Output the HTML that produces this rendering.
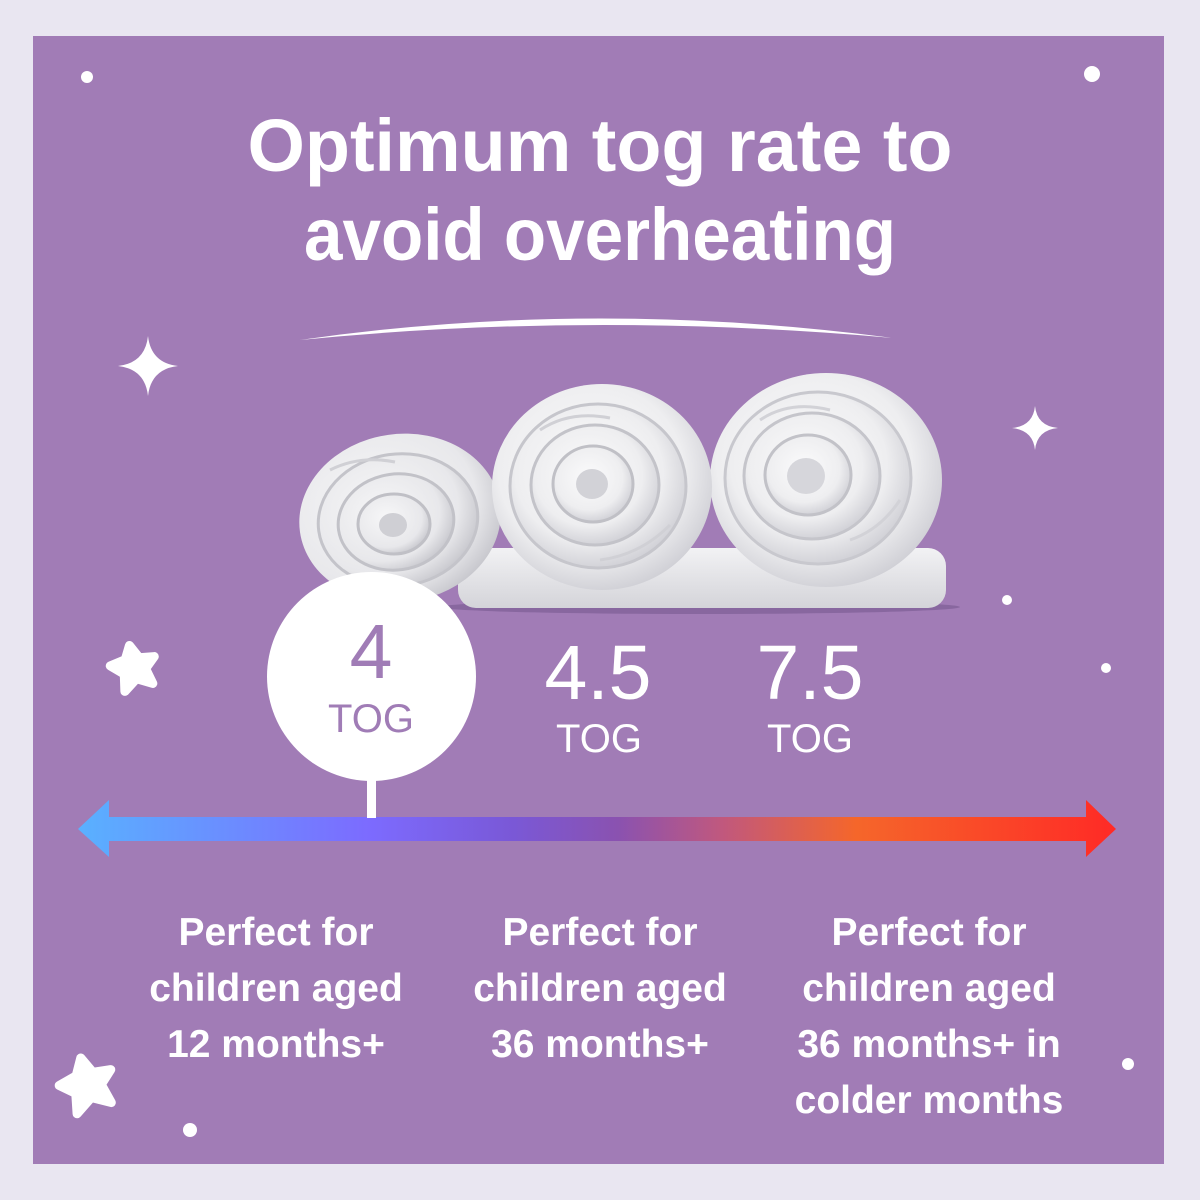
<!DOCTYPE html>
<html><head><meta charset="utf-8"><style>
html,body{margin:0;padding:0;background:#e9e6f1;}
svg{display:block;}
</style></head><body>
<svg width="1200" height="1200" viewBox="0 0 1200 1200" xmlns="http://www.w3.org/2000/svg">
<defs>
<linearGradient id="arr" gradientUnits="userSpaceOnUse" x1="78" y1="0" x2="1116" y2="0">
<stop offset="0" stop-color="#59b1ff"/>
<stop offset="0.28" stop-color="#7c6bff"/>
<stop offset="0.42" stop-color="#7a58d6"/>
<stop offset="0.52" stop-color="#8a52b0"/>
<stop offset="0.62" stop-color="#c0587e"/>
<stop offset="0.75" stop-color="#f5662a"/>
<stop offset="1" stop-color="#ff2a26"/>
</linearGradient>
<radialGradient id="rg" cx="0.45" cy="0.42" r="0.6">
<stop offset="0" stop-color="#fbfbfc"/>
<stop offset="0.7" stop-color="#eeeef0"/>
<stop offset="1" stop-color="#cfcfd5"/>
</radialGradient>
<radialGradient id="rg2" cx="0.4" cy="0.4" r="0.65">
<stop offset="0" stop-color="#f7f7f8"/>
<stop offset="0.75" stop-color="#e8e8eb"/>
<stop offset="1" stop-color="#c6c6cc"/>
</radialGradient>
<linearGradient id="base" x1="0" y1="0" x2="0" y2="1">
<stop offset="0" stop-color="#f2f2f4"/>
<stop offset="1" stop-color="#d4d4d9"/>
</linearGradient>
</defs>
<rect x="0" y="0" width="1200" height="1200" fill="#e9e6f1"/>
<rect x="33" y="36" width="1131" height="1128" fill="#a17cb6"/>

<!-- title -->
<g font-family="Liberation Sans, sans-serif" font-weight="700" fill="#ffffff" text-anchor="middle">
<text x="600" y="171" font-size="74" textLength="705" lengthAdjust="spacingAndGlyphs">Optimum tog rate to</text>
<text x="600" y="260" font-size="74" textLength="592" lengthAdjust="spacingAndGlyphs">avoid overheating</text>
</g>
<path d="M300,340 Q590,298 893,338 Q590,311 300,340 Z" fill="#ffffff"/>

<!-- dots -->
<g fill="#ffffff">
<circle cx="87" cy="77" r="6"/>
<circle cx="1092" cy="74" r="8"/>
<circle cx="1007" cy="600" r="5"/>
<circle cx="1106" cy="668" r="5"/>
<circle cx="1128" cy="1064" r="6"/>
<circle cx="190" cy="1130" r="7"/>
</g>
<!-- sparkles -->
<path d="M148,336 Q151,363 178,366 Q151,369 148,396 Q145,369 118,366 Q145,363 148,336 Z" fill="#ffffff"/>
<path d="M1035,406 Q1037,426 1058,428 Q1037,430 1035,450 Q1033,430 1012,428 Q1033,426 1035,406 Z" fill="#ffffff"/>
<!-- rounded stars -->
<g fill="#ffffff" stroke="#ffffff" stroke-linejoin="round">
<polygon stroke-width="9" points="134,645 141,659 156,661 145,671 149,687 134,679 120,689 123,672 111,661 127,658" transform="rotate(-12 134 667)"/>
<polygon stroke-width="9" points="88,1057 96,1074 114,1076 101,1088 106,1108 88,1098 70,1110 74,1090 60,1078 79,1073" transform="rotate(-15 88 1085)"/>
</g>

<!-- duvets -->
<ellipse cx="700" cy="607" rx="260" ry="7" fill="#7d5e96" opacity="0.7"/>
<rect x="458" y="548" width="488" height="60" rx="18" fill="url(#base)"/>
<!-- roll 1 -->
<g>
<ellipse cx="400" cy="518" rx="101" ry="84" fill="url(#rg2)" transform="rotate(-8 400 518)"/>
<ellipse cx="398" cy="520" rx="80" ry="66" fill="url(#rg2)" stroke="#c4c4ca" stroke-width="3" transform="rotate(-8 398 520)"/>
<ellipse cx="396" cy="522" rx="58" ry="48" fill="url(#rg2)" stroke="#c2c2c8" stroke-width="3" transform="rotate(-8 396 522)"/>
<ellipse cx="394" cy="524" rx="36" ry="30" fill="url(#rg2)" stroke="#c0c0c6" stroke-width="3"/>
<ellipse cx="393" cy="525" rx="14" ry="12" fill="#cfcfd4"/>
<path d="M330,470 Q360,455 395,462 M350,575 Q380,590 420,585" stroke="#d0d0d5" stroke-width="3" fill="none"/>
</g>
<!-- roll 3 -->
<g>
<ellipse cx="826" cy="480" rx="116" ry="107" fill="url(#rg)"/>
<ellipse cx="818" cy="478" rx="93" ry="86" fill="url(#rg)" stroke="#c8c8ce" stroke-width="3"/>
<ellipse cx="812" cy="476" rx="68" ry="63" fill="url(#rg)" stroke="#c5c5cb" stroke-width="3"/>
<ellipse cx="808" cy="475" rx="43" ry="40" fill="url(#rg)" stroke="#c2c2c8" stroke-width="3"/>
<ellipse cx="806" cy="476" rx="19" ry="18" fill="#d6d6db"/>
<path d="M760,420 Q790,400 830,410 M850,540 Q880,530 900,500" stroke="#d2d2d7" stroke-width="3" fill="none"/>
</g>
<!-- roll 2 -->
<g>
<ellipse cx="602" cy="487" rx="110" ry="103" fill="url(#rg)"/>
<ellipse cx="598" cy="486" rx="88" ry="82" fill="url(#rg)" stroke="#c6c6cc" stroke-width="3"/>
<ellipse cx="595" cy="485" rx="64" ry="60" fill="url(#rg)" stroke="#c3c3c9" stroke-width="3"/>
<ellipse cx="593" cy="484" rx="40" ry="38" fill="url(#rg)" stroke="#c0c0c6" stroke-width="3"/>
<ellipse cx="592" cy="484" rx="16" ry="15" fill="#d2d2d7"/>
<path d="M540,430 Q570,410 610,418 M600,560 Q640,555 670,525" stroke="#d0d0d5" stroke-width="3" fill="none"/>
</g>

<!-- arrow -->
<path d="M78,829 L109,800 L109,817 L1086,817 L1086,800 L1116,829 L1086,857 L1086,841 L109,841 L109,857 Z" fill="url(#arr)"/>

<!-- circle marker -->
<rect x="367" y="770" width="9" height="48" fill="#ffffff"/>
<circle cx="371.5" cy="676.5" r="104.5" fill="#ffffff"/>
<g font-family="Liberation Sans, sans-serif" text-anchor="middle">
<text x="371" y="678" font-size="77" fill="#a07cb6">4</text>
<text x="371" y="732" font-size="40" fill="#a07cb6">TOG</text>
<text x="598" y="699" font-size="77" fill="#ffffff">4.5</text>
<text x="599" y="752" font-size="40" fill="#ffffff">TOG</text>
<text x="810" y="699" font-size="77" fill="#ffffff">7.5</text>
<text x="810" y="752" font-size="40" fill="#ffffff">TOG</text>
</g>

<!-- bottom text -->
<g font-family="Liberation Sans, sans-serif" font-weight="700" font-size="39" fill="#ffffff" text-anchor="middle">
<text x="276" y="945">Perfect for</text>
<text x="276" y="1001">children aged</text>
<text x="276" y="1057">12 months+</text>
<text x="600" y="945">Perfect for</text>
<text x="600" y="1001">children aged</text>
<text x="600" y="1057">36 months+</text>
<text x="929" y="945">Perfect for</text>
<text x="929" y="1001">children aged</text>
<text x="929" y="1057">36 months+ in</text>
<text x="929" y="1113">colder months</text>
</g>
</svg>
</body></html>
